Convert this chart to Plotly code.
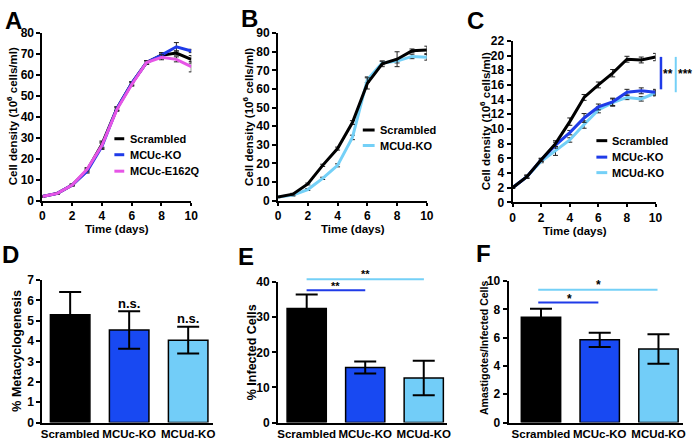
import plotly.graph_objects as go

W, H = 700, 446
FONT = "Liberation Sans, Arial"

# ---------------- data ----------------
days = [0, 1, 2, 3, 4, 5, 6, 7, 8, 9, 10]
day_ticks = [0, 2, 4, 6, 8, 10]

a_scr = [2.0, 3.5, 7.5, 14.5, 27.0, 44.0, 56.0, 66.0, 69.5, 70.5, 67.5]
a_scr_err = [0.3, 0.3, 0.4, 0.8, 1.5, 0.8, 0.8, 0.8, 1.0, 1.0, 1.8]
a_mcuc = [2.0, 3.5, 7.5, 14.0, 26.0, 44.0, 56.0, 66.0, 69.5, 73.5, 71.5]
a_mcuc_err = [0.3, 0.3, 0.4, 0.8, 1.5, 0.8, 0.8, 0.8, 1.2, 2.0, 0.8]
a_e162q = [2.0, 3.5, 7.5, 15.0, 26.5, 43.5, 55.5, 66.0, 68.5, 67.5, 64.0]
a_e162q_err = [0.3, 0.3, 0.4, 0.8, 1.5, 0.8, 0.8, 0.8, 1.2, 1.2, 2.5]
a_yticks = [0, 10, 20, 30, 40, 50, 60, 70, 80]

b_scr = [2.0, 3.5, 9.0, 19.0, 28.0, 42.0, 63.0, 73.5, 76.0, 80.5, 81.0]
b_scr_err = [0.3, 0.5, 0.5, 0.6, 0.8, 1.0, 3.0, 1.5, 4.0, 1.0, 2.0]
b_mcud = [2.0, 3.0, 6.0, 12.0, 19.0, 34.0, 65.0, 74.0, 75.0, 77.5, 77.0]
b_mcud_err = [0.3, 0.5, 0.5, 0.6, 0.8, 1.2, 1.5, 1.0, 1.0, 1.2, 1.5]
b_yticks = [0, 10, 20, 30, 40, 50, 60, 70, 80, 90]

c_scr = [2.0, 3.5, 5.8, 8.0, 11.0, 14.3, 16.0, 17.6, 19.5, 19.4, 19.8]
c_scr_err = [0.1, 0.2, 0.2, 0.4, 0.5, 0.4, 0.4, 0.5, 0.4, 0.4, 0.5]
c_mcuc = [2.0, 3.5, 5.8, 7.8, 9.5, 11.5, 13.0, 13.7, 15.0, 15.2, 15.0]
c_mcuc_err = [0.1, 0.2, 0.2, 0.4, 0.3, 0.6, 0.4, 0.5, 0.4, 0.4, 0.4]
c_mcud = [2.0, 3.5, 5.6, 7.0, 8.5, 10.6, 12.6, 13.6, 14.3, 14.1, 14.9]
c_mcud_err = [0.1, 0.2, 0.2, 0.6, 0.3, 0.5, 0.4, 0.5, 0.3, 0.3, 0.4]
c_yticks = [0, 2, 4, 6, 8, 10, 12, 14, 16, 18, 20, 22]

strains = ["Scrambled", "MCUc-KO", "MCUd-KO"]
d_vals = [5.3, 4.55, 4.05]
d_err = [1.12, 0.92, 0.66]
d_yticks = [0, 1, 2, 3, 4, 5, 6, 7]
e_vals = [32.5, 15.7, 12.7]
e_err = [4.0, 1.7, 4.9]
e_yticks = [0, 10, 20, 30, 40]
f_vals = [7.45, 5.85, 5.2]
f_err = [0.6, 0.5, 1.05]
f_yticks = [0, 2, 4, 6, 8, 10]

BLACK = "#000000"
BLUE = "#1f3be8"
LBLUE = "#74d0f7"
MAG = "#e655e6"
BAR_BLUE = "#1849f2"
BAR_LBLUE = "#72cdf8"


def px(x):
    return x / W


def py(y):
    return 1 - y / H


fig = go.Figure()


def line_trace(x, y, err, color, xa, ya):
    fig.add_trace(go.Scatter(
        x=x, y=y, mode="lines", line=dict(color=color, width=3),
        error_y=dict(type="data", array=err, color="#222222", thickness=1, width=2.5),
        xaxis=xa, yaxis=ya, showlegend=False, cliponaxis=False))


line_trace(days, a_scr, a_scr_err, BLACK, "x", "y")
line_trace(days, a_mcuc, a_mcuc_err, BLUE, "x", "y")
line_trace(days, a_e162q, a_e162q_err, MAG, "x", "y")

line_trace(days, b_mcud, b_mcud_err, LBLUE, "x2", "y2")
line_trace(days, b_scr, b_scr_err, BLACK, "x2", "y2")

line_trace(days, c_mcud, c_mcud_err, LBLUE, "x3", "y3")
line_trace(days, c_mcuc, c_mcuc_err, BLUE, "x3", "y3")
line_trace(days, c_scr, c_scr_err, BLACK, "x3", "y3")

bar_colors = [BLACK, BAR_BLUE, BAR_LBLUE]


def bar_trace(vals, err, xa, ya):
    fig.add_trace(go.Bar(
        x=[0, 1, 2], y=vals, width=0.67,
        marker=dict(color=bar_colors, line=dict(color="black", width=1.5)),
        error_y=dict(type="data", array=err, color="black", thickness=2, width=11),
        xaxis=xa, yaxis=ya, showlegend=False, cliponaxis=False))


bar_trace(d_vals, d_err, "x4", "y4")
bar_trace(e_vals, e_err, "x5", "y5")
bar_trace(f_vals, f_err, "x6", "y6")

tickfont = dict(family=FONT, size=12, color="black")
base = dict(showline=True, linecolor="black", linewidth=2, ticks="outside",
            ticklen=4, tickwidth=2, tickcolor="black", showgrid=False,
            zeroline=False, tickfont=tickfont)


def bold(vals):
    return ["<b>%s</b>" % v for v in vals]


def xnum():
    return dict(base, range=[0, 10], tickvals=day_ticks, ticktext=bold(day_ticks),
                ticklen=3)


def ynum(rng, ticks):
    return dict(base, range=rng, tickvals=ticks, ticktext=bold(ticks))


bar_x = dict(base, tickvals=[0, 1, 2], ticktext=bold(strains), ticks="", tickangle=0,
             tickfont=dict(family=FONT, size=11.5, color="black"))

fig.update_layout(
    width=W, height=H, margin=dict(l=0, r=0, t=0, b=0),
    paper_bgcolor="white", plot_bgcolor="white",
    font=dict(family=FONT, color="black"),
    xaxis=dict(xnum(), domain=[px(40), px(191)], anchor="y"),
    yaxis=dict(ynum([0, 80], a_yticks), domain=[py(200), py(27)], anchor="x"),
    xaxis2=dict(xnum(), domain=[px(279), px(430)], anchor="y2"),
    yaxis2=dict(ynum([0, 90], b_yticks), domain=[py(200), py(27)], anchor="x2"),
    xaxis3=dict(xnum(), domain=[px(517), px(662)], anchor="y3"),
    yaxis3=dict(ynum([0, 22], c_yticks), domain=[py(201.7), py(35)], anchor="x3"),
    xaxis4=dict(bar_x, domain=[px(40), px(213)], range=[-0.47, 2.42], anchor="y4"),
    yaxis4=dict(ynum([0, 7], d_yticks), domain=[py(429), py(282)], anchor="x4"),
    xaxis5=dict(bar_x, domain=[px(279), px(450)], range=[-0.49, 2.39], anchor="y5"),
    yaxis5=dict(ynum([0, 40], e_yticks), domain=[py(429), py(284)], anchor="x5"),
    xaxis6=dict(bar_x, domain=[px(513), px(690)], range=[-0.55, 2.42], anchor="y6"),
    yaxis6=dict(ynum([0, 10], f_yticks), domain=[py(429), py(283)], anchor="x6"),
)

ann = []
shapes = []


def text(x, y, s, size=13, angle=0, xanchor="center", yanchor="middle"):
    ann.append(dict(x=px(x), y=py(y), xref="paper", yref="paper", text=s,
                    showarrow=False, textangle=angle, xanchor=xanchor, yanchor=yanchor,
                    font=dict(family=FONT, size=size, color="black")))


def seg(x0, y0, x1, y1, color, width=2):
    shapes.append(dict(type="line", xref="paper", yref="paper",
                       x0=px(x0), y0=py(y0), x1=px(x1), y1=py(y1),
                       line=dict(color=color, width=width)))


# panel letters
for lx, ly, s in [(11, 14, "A"), (250, 12, "B"), (479, 14, "C"),
                  (8, 256, "D"), (247, 258, "E"), (487, 255, "F")]:
    text(lx, ly, "<b>%s</b>" % s, size=24)

# axis titles
ytitle = "<b>Cell density (10<sup>6</sup> cells/ml)</b>"
text(10, 113, ytitle, size=11.5, angle=-90)
text(249, 113, ytitle, size=11.5, angle=-90)
text(489, 118, ytitle, size=11.5, angle=-90)
text(116, 229.5, "<b>Time (days)</b>", size=11.5)
text(355, 229.5, "<b>Time (days)</b>", size=11.5)
text(580, 231.5, "<b>Time (days)</b>", size=11.5)
text(14, 355, "<b>% Metacyclogenesis</b>", size=12.5, angle=-90)
text(252, 356, "<b>% Infected Cells</b>", size=12.5, angle=-90)
text(488, 352, "<b>Amastigotes/Infected Cells</b>", size=10.5, angle=-90)


# legends
def legend(x0, x1, tx, items):
    for y, col, lab in items:
        seg(x0, y, x1, y, col, 3)
        text(tx, y, "<b>%s</b>" % lab, size=11, xanchor="left")


legend(113, 123, 127, [(136, BLACK, "Scrambled"), (152.5, BLUE, "MCUc-KO"),
                       (169.5, MAG, "MCUc-E162Q")])
legend(365, 377, 380, [(127, BLACK, "Scrambled"), (143, LBLUE, "MCUd-KO")])
legend(602, 613, 616, [(138, BLACK, "Scrambled"), (155, BLUE, "MCUc-KO"),
                       (171, LBLUE, "MCUd-KO")])

# C significance
seg(667.5, 51.5, 667.5, 85, BLUE, 2.5)
text(675, 69, "<b>**</b>", size=12)
seg(682.5, 51.5, 682.5, 88, LBLUE, 2)
text(692, 69, "<b>***</b>", size=12)

# D n.s.
text(128, 306, "<b>n.s.</b>", size=13)
text(188, 322, "<b>n.s.</b>", size=13)

# E significance
seg(308, 292.5, 367.5, 292.5, BLUE, 2)
text(337.5, 288, "<b>**</b>", size=11)
seg(308, 281, 427, 281, LBLUE, 2)
text(367.5, 275.5, "<b>**</b>", size=11)

# F significance
seg(543, 305, 604, 305, BLUE, 2)
text(575, 301, "<b>*</b>", size=12)
seg(543, 292, 664, 292, LBLUE, 2)
text(604, 287, "<b>*</b>", size=12)

fig.update_layout(annotations=ann, shapes=shapes)
fig.write_html("out.html", config={"displayModeBar": False},
               post_script="document.body.style.margin='0px';document.body.style.overflow='hidden';")
